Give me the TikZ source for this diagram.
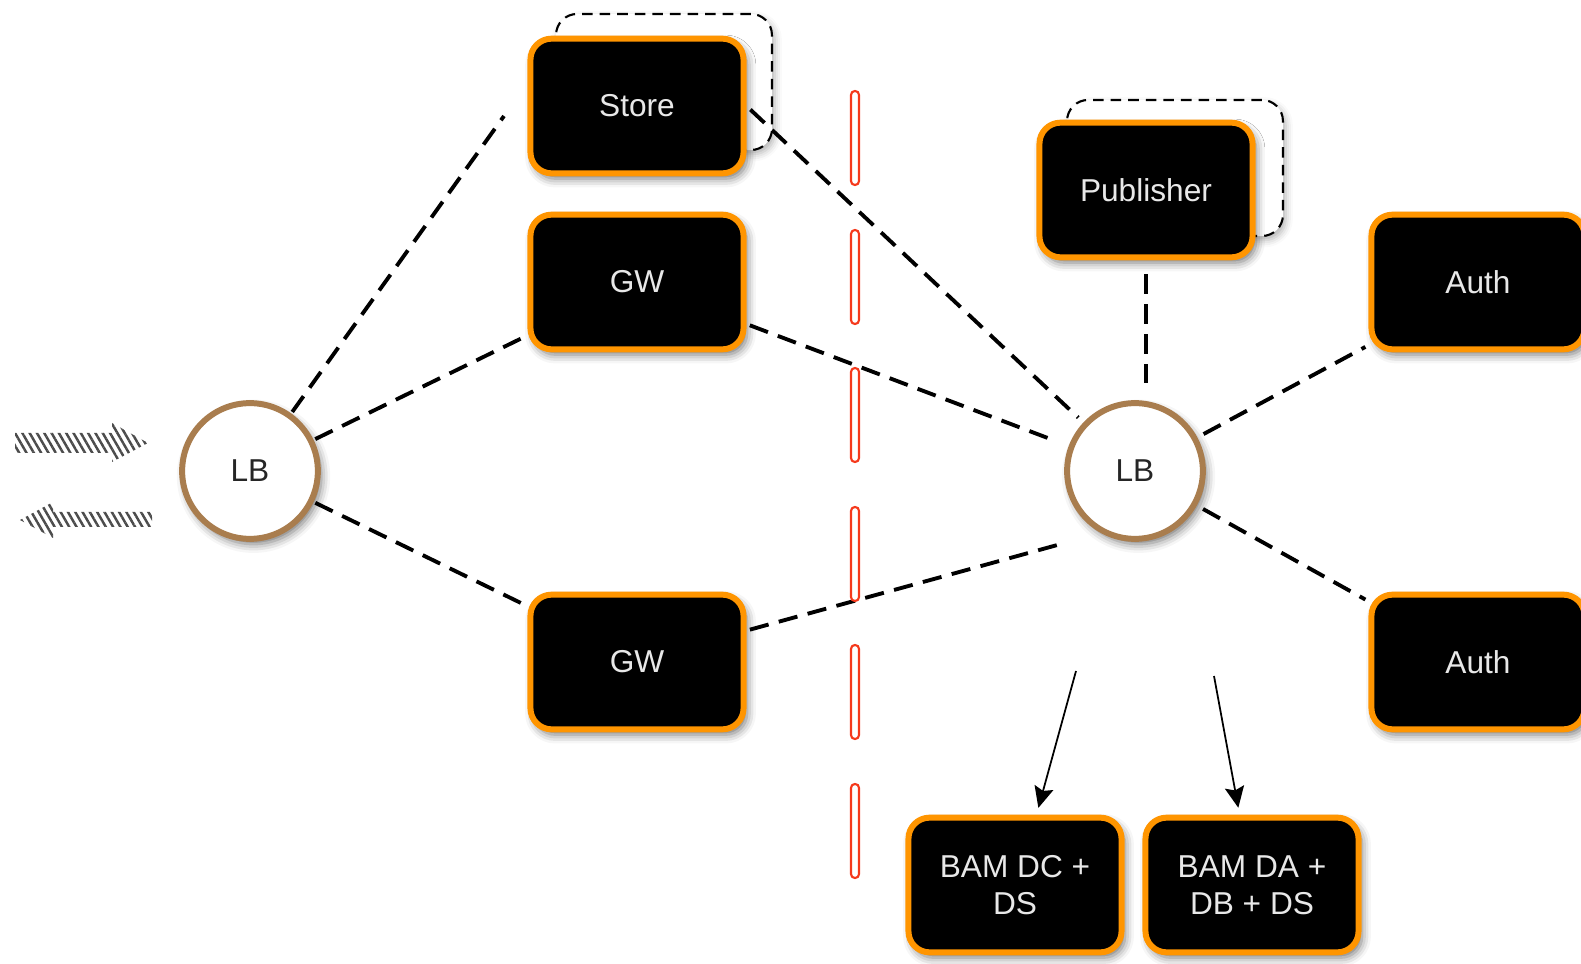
\documentclass[tikz,border=0pt]{standalone}
\usepackage{fontspec}
\setmainfont{Liberation Sans}
\usetikzlibrary{shadows.blur,arrows.meta,patterns.meta}
\definecolor{boxorange}{HTML}{FF9500}
\definecolor{lbbrown}{HTML}{A97D4E}
\definecolor{sepred}{HTML}{F5391C}
\definecolor{boxtext}{HTML}{E8E8E8}
\tikzset{
  softshadow/.style={blur shadow={shadow xshift=1pt, shadow yshift=-1.5pt, shadow blur radius=2.5pt, shadow opacity=55}},
  srv/.style={draw=boxorange, line width=1.7pt, fill=black, rounded corners=6pt,
    minimum width=60.6pt, minimum height=38.3pt, inner sep=1pt, text=boxtext,
    font=\fontsize{9}{10.5}\selectfont, align=center, softshadow},
  ghost/.style={draw=black, line width=0.6pt, dash pattern=on 3pt off 2pt, fill=white,
    rounded corners=6pt, minimum width=61.4pt, minimum height=38.7pt,
    blur shadow={shadow xshift=0.8pt, shadow yshift=-1.2pt, shadow blur radius=2pt, shadow opacity=30}},
  lb/.style={circle, draw=lbbrown, line width=1.7pt, fill=white, minimum size=38.6pt,
    inner sep=0pt, font=\fontsize{9}{10.5}\selectfont, text=black!85, softshadow},
  link/.style={line width=1.1pt, dash pattern=on 5.5pt off 3pt},
  flow/.style={line width=0.5pt, -{Stealth[length=6pt,width=5.5pt,inset=1pt]}},
  sepbar/.style={draw=sepred, line width=0.6pt, fill=white, rounded corners=1.1pt},
  hatch/.style={pattern={Lines[angle=-60,distance=1.8pt,line width=0.7pt]}, pattern color=black!70}
}
\begin{document}
\begin{tikzpicture}[x=0.01cm,y=-0.01cm]
\useasboundingbox (0,0) rectangle (1581,964);

% ghost (stacked) boxes
\node[ghost] (storeGhost) at (664,82) {};
\node[ghost] (pubGhost) at (1175,168) {};

% main nodes
\node[srv] (store) at (637,106) {Store};
\node[srv] (gw1) at (637,282) {GW};
\node[srv] (gw2) at (637,662) {GW};
\node[srv] (pub) at (1146,190) {Publisher};
\node[srv] (auth1) at (1478,282) {Auth};
\node[srv] (auth2) at (1478,662) {Auth};
\node[srv] (bamdc) at (1015,885) {BAM DC +\\DS};
\node[srv] (bamda) at (1252,885) {BAM DA +\\DB + DS};
\node[lb] (lbL) at (250,471) {LB};
\node[lb] (lbR) at (1135,471) {LB};

% free ends
\coordinate (sEnd) at (504,116);
\coordinate (g2End) at (1061,544);
\coordinate (a1) at (1076,671);
\coordinate (a2) at (1214,676);

% connectors
\draw[link,shorten <=0.5pt] (lbL) -- (sEnd);
\draw[link,shorten <=0.5pt,shorten >=1pt] (lbL) -- (gw1.206);
\draw[link,shorten <=0.5pt,shorten >=1pt] (lbL) -- (gw2.153);
\draw[link,shorten <=1.5pt,shorten >=2pt] (store.east) -- (lbR);
\draw[link,shorten <=1pt,shorten >=5.7pt] (gw1.-21.5) -- (lbR);
\draw[link,shorten <=1pt] (gw2.16.4) -- (g2End);
\draw[link,shorten <=4pt,shorten >=4pt] (pub.south) -- (pub.south |- lbR.north);
\draw[link,shorten <=2pt,shorten >=1pt] (lbR) -- (auth1.210);
\draw[link,shorten <=2pt,shorten >=1pt] (lbR) -- (auth2.151);

\draw[flow,shorten >=2pt] (a1) -- (bamdc.73);
\draw[flow,shorten >=2pt] (a2) -- (bamda.100);

% red separator
\foreach \y in {91,230,368,507,645,784}
  \draw[sepbar] (851,\y) rectangle (859,\y+94);

% hatched in/out arrows
\path[hatch] (15,433) -- (112,433) -- (112,423) -- (148,443) -- (112,462) -- (112,453) -- (15,453) -- cycle;
\path[hatch] (152,512) -- (53,512) -- (53,502) -- (20,520) -- (53,538) -- (53,527) -- (152,527) -- cycle;
\end{tikzpicture}
\end{document}
